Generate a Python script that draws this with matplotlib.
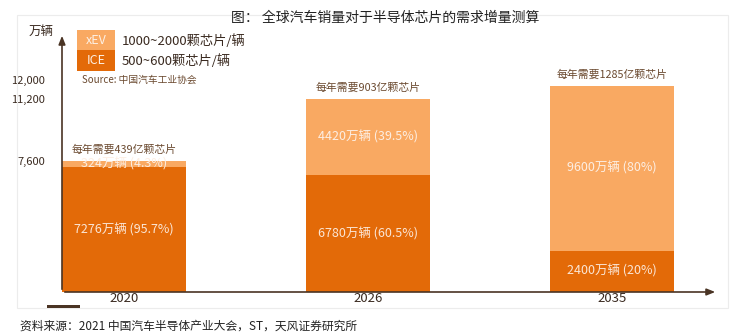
import matplotlib.pyplot as plt
import matplotlib.patches as mpatches
import matplotlib.transforms as mtransforms
import numpy as np

plt.rcParams['font.family'] = ['Noto Sans CJK SC', 'DejaVu Sans']

# данные
years = ['2020', '2026', '2035']
ice = [7276, 6780, 2400]
xev = [324, 4420, 9600]
ice_labels = ['7276万辆 (95.7%)', '6780万辆 (60.5%)', '2400万辆 (20%)']
xev_labels = ['324万辆 (4.3%)', '4420万辆 (39.5%)', '9600万辆 (80%)']
chips = ['每年需要439亿颗芯片', '每年需要903亿颗芯片', '每年需要1285亿颗芯片']
yticks = [7600, 11200, 12000]

c_ice = '#E36A08'
c_xev = '#F9A962'
brown = '#4a3424'

fig = plt.figure(figsize=(7.45, 3.36), dpi=100)
W, H = 745, 336

# рамка вокруг графика
fig.add_artist(mpatches.Rectangle((17 / W, 1 - 308 / H), (728 - 17) / W, (308 - 15) / H,
                                  transform=fig.transFigure, fill=False,
                                  edgecolor='#ececec', lw=0.8))
fig.add_artist(mpatches.Rectangle((47 / W, 1 - 308 / H), 33 / W, 3 / H,
                                  transform=fig.transFigure, color='#4a3424', lw=0))

ax = fig.add_axes([62 / W, 1 - 292 / H, (718 - 62) / W, (292 - 33) / H])

x = np.arange(len(years))
w = 0.508
ax.bar(x, ice, width=w, color=c_ice)
ax.bar(x, xev, width=w, bottom=ice, color=c_xev)

for i in range(len(years)):
    ax.text(x[i], ice[i] / 2, ice_labels[i], ha='center', va='center',
            color='#fbe6d6', fontsize=9)
    ax.text(x[i], ice[i] + xev[i] / 2, xev_labels[i], ha='center', va='center',
            color='#fdeee2', fontsize=9)
    ax.text(x[i], ice[i] + xev[i] + 350, chips[i], ha='center', va='bottom',
            color='#6b4a30', fontsize=7.8)

ax.set_xlim(-0.254, 2.434)
ax.set_ylim(0, 15058)
ax.set_xticks(x)
ax.set_xticklabels(years, fontsize=9.5, color='#3a2a20')
ax.set_yticks(yticks)
ax.set_yticklabels([f'{v:,}' for v in yticks], fontsize=8, color='#3a2a20')
ax.tick_params(axis='y', length=0, pad=12)
ax.tick_params(axis='x', length=0, pad=0)
# чуть раздвинуть верхние подписи
lbls = ax.get_yticklabels()
lbls[2].set_transform(lbls[2].get_transform() + mtransforms.ScaledTranslation(0, 4 / 72, fig.dpi_scale_trans))
for s in ax.spines.values():
    s.set_visible(False)
ax.patch.set_alpha(0)

# оси со стрелками
ax.annotate('', xy=(0, 1), xytext=(0, 0), xycoords='axes fraction',
            arrowprops=dict(arrowstyle='-|>,head_length=0.5,head_width=0.2', color=brown, lw=1.2))
ax.annotate('', xy=(1, 0), xytext=(0, 0), xycoords='axes fraction',
            arrowprops=dict(arrowstyle='-|>,head_length=0.5,head_width=0.2', color=brown, lw=1.2))

# подписи сверху
fig.text(385 / W, 1 - 18 / H, '图： 全球汽车销量对于半导体芯片的需求增量测算',
         ha='center', va='center', fontsize=10, color='#222222')
fig.text(41 / W, 1 - 31 / H, '万辆', ha='center', va='center', fontsize=9, color='#3a2a20')

# легенда
fig.add_artist(mpatches.Rectangle((77 / W, 1 - 50 / H), 38 / W, 20 / H,
                                  transform=fig.transFigure, color=c_xev, lw=0))
fig.add_artist(mpatches.Rectangle((77 / W, 1 - 71 / H), 38 / W, 21 / H,
                                  transform=fig.transFigure, color=c_ice, lw=0))
fig.text(96 / W, 1 - 40 / H, 'xEV', ha='center', va='center', fontsize=9, color='#fdf0e4')
fig.text(96 / W, 1 - 61 / H, 'ICE', ha='center', va='center', fontsize=9, color='#fdf0e4')
fig.text(122 / W, 1 - 41 / H, '1000~2000颗芯片/辆', ha='left', va='center', fontsize=9.5, color='#3a2a20')
fig.text(122 / W, 1 - 61 / H, '500~600颗芯片/辆', ha='left', va='center', fontsize=9.5, color='#3a2a20')
fig.text(82 / W, 1 - 80 / H, 'Source: 中国汽车工业协会', ha='left', va='center', fontsize=7, color='#6b4a30')

# источник
fig.text(20 / W, 1 - 326 / H, '资料来源：2021 中国汽车半导体产业大会，ST，天风证券研究所',
         ha='left', va='center', fontsize=8.5, color='#222222')

plt.savefig('out.png', dpi=100)
